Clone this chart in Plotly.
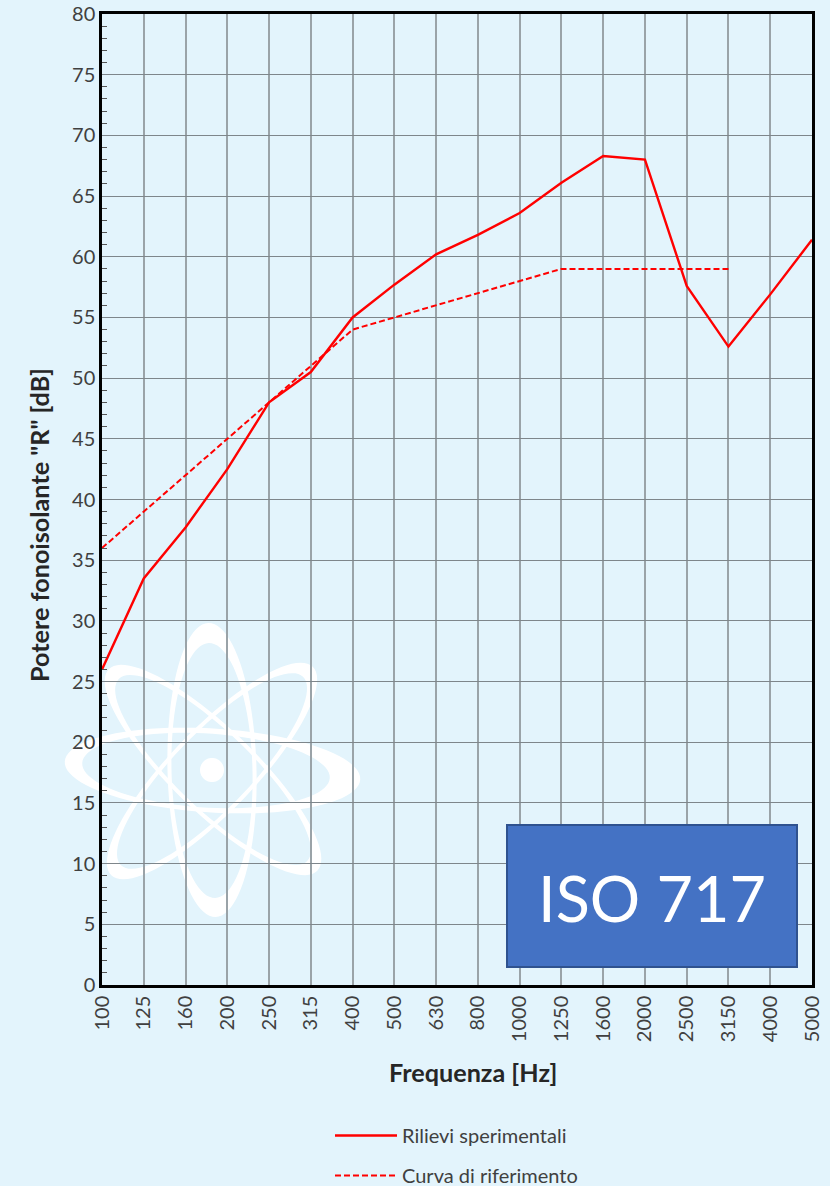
import numpy as np
import plotly.graph_objects as go

freq = ["100","125","160","200","250","315","400","500","630","800","1000","1250","1600","2000","2500","3150","4000","5000"]
rilievi = [26,33.5,37.7,42.5,48,50.5,55,57.7,60.2,61.8,63.6,66.1,68.3,68,57.6,52.6,56.9,61.4]
riferimento = [36,39,42,45,48,51,54,55,56,57,58,59,59,59,59,59]

W, H = 830, 1186
L, R, T, B = 102, 812, 14, 985
PW, PH = R - L, B - T
BG = "#E3F4FC"
FONT = "Lato, Carlito, Calibri, sans-serif"

def px(x): return (x - L) / PW
def py(y): return (B - y) / PH

def ell(cx, cy, a, b, deg):
    t = np.radians(deg)
    s = np.linspace(0, 2 * np.pi, 90, endpoint=False)
    X = cx + a * np.cos(s) * np.cos(t) - b * np.sin(s) * np.sin(t)
    Y = cy + a * np.cos(s) * np.sin(t) + b * np.sin(s) * np.cos(t)
    return "M" + "L".join(f"{px(x):.5f},{py(y):.5f}" for x, y in zip(X, Y)) + "Z"

rings = [
    ((212.5, 770.5, 148, 42, 3.5), (206, 770.5, 124, 37, 3.5)),
    ((212, 770, 147, 44.5, 88.6), (212, 770.5, 127.5, 40.5, 88.6)),
    ((213, 770, 145, 42, 44), (213, 770, 131, 38, 44)),
    ((212, 771, 145, 42, -46), (212, 771, 131, 38, -46)),
]
shapes = []
for o, i in rings:
    shapes.append(dict(type="path", xref="paper", yref="paper", layer="below",
                       path=ell(*o) + ell(*i), fillrule="evenodd",
                       fillcolor="white", line=dict(width=0)))
shapes.append(dict(type="path", xref="paper", yref="paper", layer="below",
                   path=ell(212, 770, 12, 12, 0), fillcolor="white", line=dict(width=0)))
shapes.append(dict(type="rect", xref="paper", yref="paper", layer="above",
                   x0=px(507), x1=px(797), y0=py(967), y1=py(825),
                   fillcolor="#4472C4", line=dict(color="#2F528F", width=2)))

fig = go.Figure()
fig.add_trace(go.Scatter(x=freq, y=rilievi, mode="lines", name="Rilievi sperimentali",
                         legendgroup="a", line=dict(color="#FF0000", width=2.4)))
fig.add_trace(go.Scatter(x=freq[:len(riferimento)], y=riferimento, mode="lines",
                         name="Curva di riferimento", legendgroup="b",
                         line=dict(color="#FF0000", width=2, dash="6px,3px")))

title_font = dict(family=FONT, size=25.2, color="#262626")
fig.update_layout(
    width=W, height=H, autosize=False,
    margin=dict(l=L, r=W - R, t=T, b=H - B, pad=0, autoexpand=False),
    paper_bgcolor=BG, plot_bgcolor="rgba(0,0,0,0)",
    font=dict(family=FONT, color="#404040", size=20),
    shapes=shapes,
    annotations=[
        dict(text="ISO 717", xref="paper", yref="paper", x=px(652), y=py(897),
             xanchor="center", yanchor="middle", showarrow=False,
             font=dict(family=FONT, size=63, color="white")),
        dict(text="<b>Frequenza [Hz]</b>", xref="paper", yref="paper", x=px(473), y=py(1072),
             xanchor="center", yanchor="middle", showarrow=False, font=title_font),
        dict(text='<b>Potere fonoisolante "R" [dB]</b>', xref="paper", yref="paper", x=px(39), y=py(525),
             xanchor="center", yanchor="middle", textangle=-90, showarrow=False, font=title_font),
    ],
    legend=dict(xref="container", yref="container", x=330 / W, y=1 - 1116 / H, xanchor="left", yanchor="top",
                bgcolor="rgba(0,0,0,0)", itemwidth=62, tracegroupgap=11,
                traceorder="grouped", font=dict(family=FONT, size=20, color="#404040")),
    showlegend=True,
)
fig.update_xaxes(
    type="category", categoryorder="array", categoryarray=freq,
    range=[0, len(freq) - 1], tickangle=-90, tickmode="array", tickvals=freq, ticktext=freq,
    showgrid=True, gridcolor="#9AA3A8", gridwidth=1.5, automargin=False,
    showline=True, linecolor="black", linewidth=2.5, mirror=True,
    ticks="", ticklen=0, zeroline=False,
)
fig.update_yaxes(
    range=[0, 80], tick0=0, dtick=5, automargin=False,
    showgrid=True, gridcolor="#7E868B", gridwidth=1.2,
    showline=True, linecolor="black", linewidth=2.5, mirror=True,
    ticks="", zeroline=False,
    minor=dict(dtick=1, tick0=0, ticks="inside", ticklen=5, tickcolor="#555555", tickwidth=1.2, showgrid=False),
)
fig.write_html("out.html", config=dict(displayModeBar=False),
               post_script="document.body.style.margin='0';document.body.style.background='%s';" % BG)
